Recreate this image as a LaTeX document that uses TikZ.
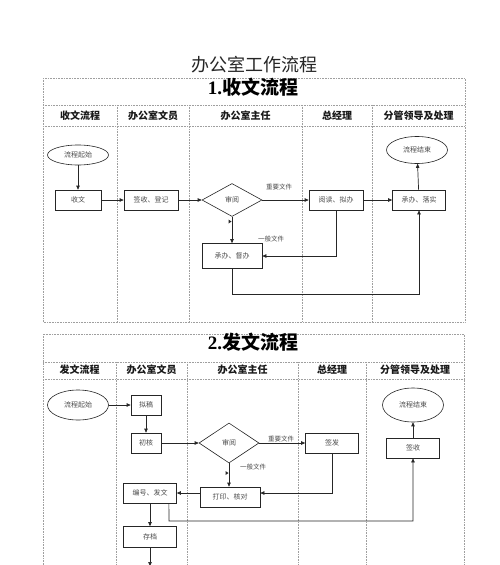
\documentclass[tikz,border=0pt]{standalone}
\usepackage{fontspec}
\setmainfont{Liberation Serif}
\newfontfamily\cjk{Noto Sans CJK SC}
\usetikzlibrary{arrows.meta,shapes.geometric}
\begin{document}
\begin{tikzpicture}[x=1pt,y=-1pt,
  lane/.style={draw=gray!75, densely dotted, line width=0.6pt},
  box/.style={draw=black!85, line width=0.7pt, rectangle, minimum height=20pt, inner sep=0pt,
    font=\cjk\fontsize{7}{8}\selectfont, text=black!70},
  oval/.style={draw=black!85, line width=0.6pt, ellipse, inner sep=0pt,
    font=\cjk\fontsize{7}{8}\selectfont, text=black!70},
  dia/.style={draw=black!85, line width=0.6pt, diamond, inner sep=0pt,
    font=\cjk\fontsize{7}{8}\selectfont, text=black!70},
  arr/.style={draw=black!85, line width=0.7pt, -{Triangle[length=4pt,width=3.5pt]}},
  ln/.style={draw=black!85, line width=0.7pt},
  hdr/.style={font=\cjk\bfseries\fontsize{10}{12}\selectfont, text=black!90},
  lbl/.style={font=\cjk\fontsize{6.5}{8}\selectfont, text=black!70, inner sep=1pt},
  ttl/.style={font=\cjk\bfseries\fontsize{19}{22}\selectfont, text=black}
]
\useasboundingbox (0,0) rectangle (500,565);
\fill[white] (0,0) rectangle (500,565);

% main title
\node[font=\cjk\fontsize{18}{20}\selectfont, text=black!85] (maintitle) at (254,65) {办公室工作流程};

% ================= Section 1 frame
\draw[lane] (43,78) rectangle (465,322);
\draw[lane] (43,105) -- (465,105);
\draw[lane] (43,126) -- (465,126);
\foreach \x in {117,189,302,372} \draw[lane] (\x,105) -- (\x,322);
\node[ttl] (t1) at (253,87) {{\fontspec{Liberation Serif}\bfseries 1.}收文流程};
\node[hdr] (h11) at (80,115.5) {收文流程};
\node[hdr] (h12) at (153,115.5) {办公室文员};
\node[hdr] (h13) at (245.5,115.5) {办公室主任};
\node[hdr] (h14) at (337,115.5) {总经理};
\node[hdr] (h15) at (418.5,115.5) {分管领导及处理};

% nodes section 1
\node[oval, minimum width=61pt, minimum height=20pt] (s1start) at (78,155) {流程起始};
\node[box, minimum width=46pt] (s1recv) at (78,200) {收文};
\node[box, minimum width=54pt] (s1sign) at (151,200) {签收、登记};
\node[dia, minimum width=60pt, minimum height=33pt] (s1rev) at (232,200) {审阅};
\node[box, minimum width=60pt, minimum height=25pt] (s1do) at (232,256) {承办、督办};
\node[box, minimum width=54pt] (s1read) at (336,200) {阅读、拟办};
\node[box, minimum width=53pt] (s1impl) at (419,200) {承办、落实};
\node[oval, minimum width=61pt, minimum height=27pt] (s1end) at (417,150) {流程结束};

\draw[arr] (s1start) -- (s1recv);
\draw[arr] (s1recv) -- (s1sign);
\draw[arr] (s1sign) -- (s1rev);
\draw[arr] (s1rev) -- (s1read);
\node[lbl] (l11) at (279,187) {重要文件};
\draw[arr] (s1rev) -- (s1do);
\fill[black!85] (228.5,219.5) -- (231.5,221.5) -- (228.5,223.5) -- cycle;
\draw[arr] (s1read.south) |- (s1do.east);
\node[lbl] (l12) at (271,239) {一般文件};
\draw[arr] (s1read) -- (s1impl);
\draw[arr] (s1impl) -- (s1end);
\coordinate (c1) at (232,294);
\draw[arr] (s1do.south) -- (c1) -| (s1impl.south);

% ================= Section 2 frame
\draw[lane] (43,565) -- (43,334) -- (464,334) -- (464,565);
\draw[lane] (43,362) -- (464,362);
\draw[lane] (43,379) -- (464,379);
\foreach \x in {116,187,298,366} \draw[lane] (\x,362) -- (\x,565);
\node[ttl] (t2) at (253,342) {{\fontspec{Liberation Serif}\bfseries 2.}发文流程};
\node[hdr] (h21) at (79.5,370) {发文流程};
\node[hdr] (h22) at (151.5,370) {办公室文员};
\node[hdr] (h23) at (242.5,370) {办公室主任};
\node[hdr] (h24) at (332,370) {总经理};
\node[hdr] (h25) at (415,370) {分管领导及处理};

% nodes section 2
\node[oval, minimum width=61pt, minimum height=30pt] (s2start) at (78,405) {流程起始};
\node[box, minimum width=30pt] (s2draft) at (146,405) {拟稿};
\node[box, minimum width=30pt] (s2chk) at (146,443) {初核};
\node[dia, minimum width=60pt, minimum height=40pt] (s2rev) at (229,443) {审阅};
\node[box, minimum width=60pt] (s2print) at (230,497) {打印、核对};
\node[box, minimum width=53pt] (s2num) at (150,493) {编号、发文};
\node[box, minimum width=53pt, minimum height=21pt] (s2arch) at (150,537) {存档};
\node[box, minimum width=53pt] (s2sig) at (332,443) {签发};
\node[box, minimum width=53pt] (s2recv) at (413,448) {签收};
\node[oval, minimum width=61pt, minimum height=34pt] (s2end) at (413,405) {流程结束};
\coordinate (s2out) at (150,566);

\draw[arr] (s2start) -- (s2draft);
\draw[arr] (s2draft) -- (s2chk);
\draw[arr] (s2chk) -- (s2rev);
\draw[arr] (s2rev) -- (s2sig);
\node[lbl] (l21) at (281,439) {重要文件};
\draw[arr] (s2rev) -- (s2rev |- s2print.north);
\fill[black!85] (225.5,471) -- (228.5,473) -- (225.5,475) -- cycle;
\node[lbl] (l22) at (253,467) {一般文件};
\draw[arr] (s2sig.south) |- (s2print.east |- s2num.east);
\draw[arr] (s2print.west |- s2num.west) -- (s2num.east);
\draw[arr] (s2num) -- (s2arch);
\draw[arr] (s2arch) -- (s2out);
\coordinate (c2) at (169,521);
\draw[arr] ([xshift=-8pt]s2num.south east) -- (c2) -| (s2recv.south);
\draw[arr] (s2recv) -- (s2end);
\end{tikzpicture}
\end{document}
